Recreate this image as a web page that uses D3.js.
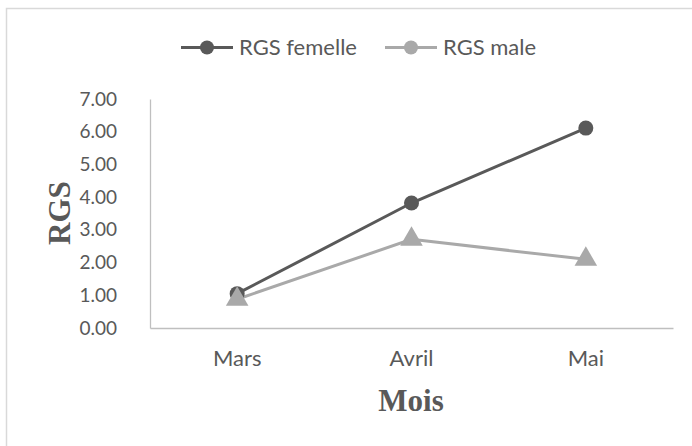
<!DOCTYPE html>
<html>
<head>
<meta charset="utf-8">
<script src="https://cdn.jsdelivr.net/npm/d3@7"></script>
<style>
  html, body { margin: 0; padding: 0; background: #fff; }
  svg { display: block; }
</style>
</head>
<body>
<svg id="chart" width="692" height="446"></svg>
<script>
const categories = ["Mars", "Avril", "Mai"];
const femelle = [1.05, 3.82, 6.11];
const male = [0.88, 2.71, 2.10];
const yTicks = [0, 1, 2, 3, 4, 5, 6, 7];
const seriesNames = ["RGS femelle", "RGS male"];
const seriesColors = ["#595959", "#a9a9a9"];
const xTitle = "Mois";
const yTitle = "RGS";

const svg = d3.select("#chart");
const W = 692, H = 446;
svg.append("rect").attr("x", 6.5).attr("y", 8.5).attr("width", W).attr("height", H)
  .attr("fill", "#fff").attr("stroke", "#d9d9d9").attr("stroke-width", 1.5);

const plot = { left: 150, right: 673, top: 99, bottom: 328 };

const x = d3.scaleBand().domain(categories).range([plot.left, plot.right]);
const y = d3.scaleLinear().domain([0, 7]).range([plot.bottom, plot.top]);

const textColor = "#595959";
const tickFont = "Lato, 'Open Sans', sans-serif";

// y axis
const yAxis = d3.axisLeft(y).tickValues(yTicks).tickFormat(d3.format(".2f")).tickSize(0).tickPadding(33);
const gy = svg.append("g").attr("transform", `translate(${plot.left},0)`).call(yAxis);
gy.select(".domain").attr("stroke", "#bfbfbf").attr("stroke-width", 1.3);
gy.selectAll("text").attr("fill", textColor).attr("font-family", tickFont).attr("font-size", 19);

// x axis
const xAxis = d3.axisBottom(x).tickSize(0).tickPadding(22);
const gx = svg.append("g").attr("transform", `translate(0,${plot.bottom})`).call(xAxis);
gx.select(".domain").attr("stroke", "#bfbfbf").attr("stroke-width", 1.3);
gx.selectAll("text").attr("fill", textColor).attr("font-family", tickFont).attr("font-size", 22);

// series
const cx = d => x(d) + x.bandwidth() / 2;
const line = d3.line().x((d, i) => cx(categories[i])).y(d => y(d));

svg.append("path").datum(male).attr("d", line).attr("fill", "none")
  .attr("stroke", seriesColors[1]).attr("stroke-width", 3);
svg.append("path").datum(femelle).attr("d", line).attr("fill", "none")
  .attr("stroke", seriesColors[0]).attr("stroke-width", 3);

svg.selectAll("circle.f").data(femelle).enter().append("circle")
  .attr("cx", (d, i) => cx(categories[i])).attr("cy", d => y(d)).attr("r", 7.5)
  .attr("fill", seriesColors[0]);

const tri = d3.symbol().type(d3.symbolTriangle).size(220);
svg.selectAll("path.m").data(male).enter().append("path")
  .attr("d", tri)
  .attr("transform", (d, i) => `translate(${cx(categories[i])},${y(d)})`)
  .attr("fill", seriesColors[1]);

// legend
const legendItems = [
  { name: seriesNames[0], color: seriesColors[0], x0: 181 },
  { name: seriesNames[1], color: seriesColors[1], x0: 385 }
];
const lg = svg.append("g");
legendItems.forEach(it => {
  lg.append("line").attr("x1", it.x0).attr("x2", it.x0 + 52).attr("y1", 47.5).attr("y2", 47.5)
    .attr("stroke", it.color).attr("stroke-width", 3);
  lg.append("circle").attr("cx", it.x0 + 26).attr("cy", 47.5).attr("r", 7).attr("fill", it.color);
  lg.append("text").attr("x", it.x0 + 58).attr("y", 47.5).attr("dy", "0.35em")
    .attr("fill", textColor).attr("font-family", tickFont).attr("font-size", 22).text(it.name);
});

// axis titles
svg.append("text").attr("x", (plot.left + plot.right) / 2 - 0.5).attr("y", 411)
  .attr("text-anchor", "middle").attr("font-family", "'Liberation Serif', 'Times New Roman', serif")
  .attr("font-weight", "bold").attr("font-size", 31).attr("fill", textColor).text(xTitle);

svg.append("text").attr("transform", "translate(70,213) rotate(-90)")
  .attr("text-anchor", "middle").attr("font-family", "'Liberation Serif', 'Times New Roman', serif")
  .attr("font-weight", "bold").attr("font-size", 31).attr("fill", textColor).text(yTitle);
</script>
</body>
</html>
